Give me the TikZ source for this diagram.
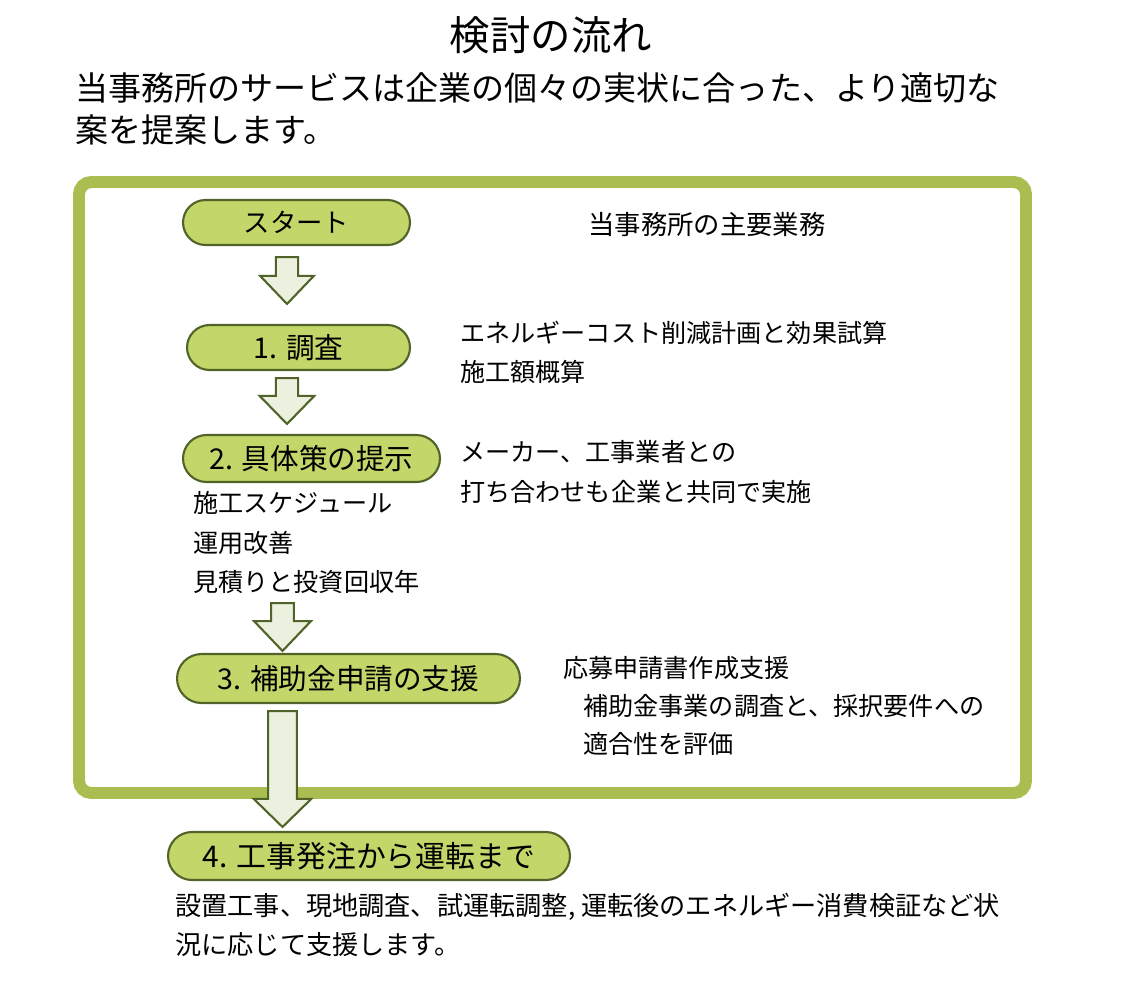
\documentclass[tikz,border=0pt]{standalone}
\usepackage{fontspec}
\setmainfont{Noto Sans CJK JP}
\usepackage{tikz}
\usetikzlibrary{shapes.misc, positioning, calc}
\definecolor{framegreen}{RGB}{170, 189, 80}
\definecolor{stepfill}{RGB}{195, 214, 105}
\definecolor{stepline}{RGB}{80, 99, 40}
\definecolor{arrowfill}{RGB}{235, 241, 222}

% block arrow: top, tip, shaft half width, head half width, head length
\newcommand{\blockarrow}[5]{%
  \filldraw[flowarrow] let \p1=(#1), \p2=(#2) in
    (\x1-#3,\y1) -- (\x1+#3,\y1) -- (\x1+#3,\y2+#5) -- (\x1+#4,\y2+#5)
    -- (\x2,\y2) -- (\x1-#4,\y2+#5) -- (\x1-#3,\y2+#5) -- cycle;}

\begin{document}
\begin{tikzpicture}[
    x=0.02cm, y=-0.02cm,
    frame/.style={draw=framegreen, line width=6.8pt, rounded corners=7pt},
    stepbox/.style={rounded rectangle, draw=stepline, line width=1.2pt,
                    fill=stepfill, inner sep=0pt,
                    font=\fontsize{16.3}{19}\selectfont},
    flowarrow/.style={draw=stepline, line width=1.2pt, fill=arrowfill,
                      line join=miter},
    note/.style={anchor=west, inner sep=0pt,
                 font=\fontsize{14.3}{17}\selectfont}
]
    \useasboundingbox (0,0) rectangle (1125,981);

    % heading
    \node[inner sep=0pt, font=\fontsize{23}{26}\selectfont] (title) at (551,35) {検討の流れ};
    \node[note, font=\fontsize{18.8}{22}\selectfont] (lead1) at (75,88)
        {当事務所のサービスは企業の個々の実状に合った、より適切な};
    \node[note, font=\fontsize{18.8}{22}\selectfont] (lead2) at (75,130) {案を提案します。};

    % frame
    \draw[frame] (79,182) rectangle (1026,793);

    % steps
    \node[stepbox, minimum width=4.54cm, minimum height=0.9cm,
          font=\fontsize{15}{18}\selectfont] (start) at (296.5,222.5) {スタート};
    \node[stepbox, minimum width=4.46cm, minimum height=0.9cm] (step1) at (298.5,347.5) {1. 調査};
    \node[stepbox, minimum width=5.14cm, minimum height=0.94cm] (step2) at (311.5,458.5) {2. 具体策の提示};
    \node[stepbox, minimum width=6.86cm, minimum height=0.98cm] (step3) at (348.5,678.5) {3. 補助金申請の支援};
    \node[stepbox, minimum width=8.04cm, minimum height=0.96cm,
          font=\fontsize{17}{20}\selectfont] (step4) at (369,856) {4. 工事発注から運転まで};

    % arrows
    \coordinate (axisA) at (287,0);
    \coordinate (axisB) at (282.5,0);
    \blockarrow{$(start.south -| axisA)+(0,11)$}{$(step1.north -| axisA)+(0,-20)$}{6.3pt}{15.3pt}{16pt}
    \blockarrow{$(step1.south -| axisA)+(0,7)$}{$(step2.north -| axisA)+(0,-10)$}{6.3pt}{15.6pt}{16pt}
    \blockarrow{$(step2.south -| axisB)+(0,120)$}{$(step3.north -| axisB)+(0,-2)$}{6.5pt}{16.2pt}{17pt}
    \blockarrow{$(step3.south -| axisB)+(0,7)$}{$(step4.north -| axisB)+(0,-4)$}{8.2pt}{16.4pt}{16pt}

    % notes
    \node[note, font=\fontsize{15}{18}\selectfont] (duty) at (588,225) {当事務所の主要業務};
    \node[note] (n1a) at (460,333) {エネルギーコスト削減計画と効果試算};
    \node[note] (n1b) at (460,372) {施工額概算};
    \node[note] (n2a) at (460,452) {メーカー、工事業者との};
    \node[note] (n2b) at (460,492) {打ち合わせも企業と共同で実施};
    \node[note] (l2a) at (193,503) {施工スケジュール};
    \node[note] (l2b) at (193,543) {運用改善};
    \node[note] (l2c) at (193,582) {見積りと投資回収年};
    \node[note] (n3a) at (563,668) {応募申請書作成支援};
    \node[note] (n3b) at (583,706) {補助金事業の調査と、採択要件への};
    \node[note] (n3c) at (583,744) {適合性を評価};
    \node[note, font=\fontsize{14.9}{18}\selectfont] (n4a) at (175,907)
        {設置工事、現地調査、試運転調整, 運転後のエネルギー消費検証など状};
    \node[note, font=\fontsize{14.9}{18}\selectfont] (n4b) at (175,945) {況に応じて支援します。};
\end{tikzpicture}
\end{document}
